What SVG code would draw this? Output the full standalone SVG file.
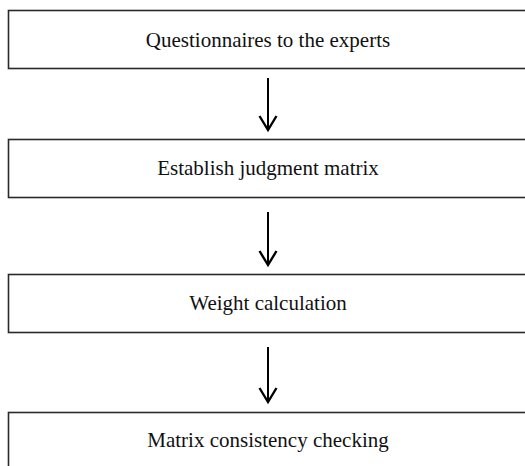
<svg xmlns="http://www.w3.org/2000/svg" width="525" height="466" viewBox="0 0 525 466">
<style>
.box{fill:#fff;stroke:#2a2a2a;stroke-width:1.6}
.lbl{font-family:"Liberation Serif","Times New Roman",serif;font-size:21px;fill:#111;text-anchor:middle}
.conn{stroke:#000;stroke-width:2;fill:none}
.head{stroke:#000;stroke-width:2.4;fill:none;stroke-linejoin:miter}
</style>
<rect width="525" height="466" fill="#fff"/>
<g id="n1"><rect class="box" x="8.5" y="10.5" width="530" height="58"/><text class="lbl" x="268" y="47">Questionnaires to the experts</text></g>
<g id="n2"><rect class="box" x="8.5" y="139.5" width="530" height="58"/><text class="lbl" x="268" y="175">Establish judgment matrix</text></g>
<g id="n3"><rect class="box" x="8.5" y="274.5" width="530" height="58"/><text class="lbl" x="268" y="310">Weight calculation</text></g>
<g id="n4"><rect class="box" x="8.5" y="412.5" width="530" height="70"/><text class="lbl" x="268" y="447">Matrix consistency checking</text></g>
<g id="connectors">
<path class="conn" d="M268 78V129"/><path class="head" d="M259.5 116L268 130L276.5 116"/>
<path class="conn" d="M268 212V264"/><path class="head" d="M259.5 251L268 265L276.5 251"/>
<path class="conn" d="M268 347V401"/><path class="head" d="M259.5 388L268 402L276.5 388"/>
</g>
</svg>
